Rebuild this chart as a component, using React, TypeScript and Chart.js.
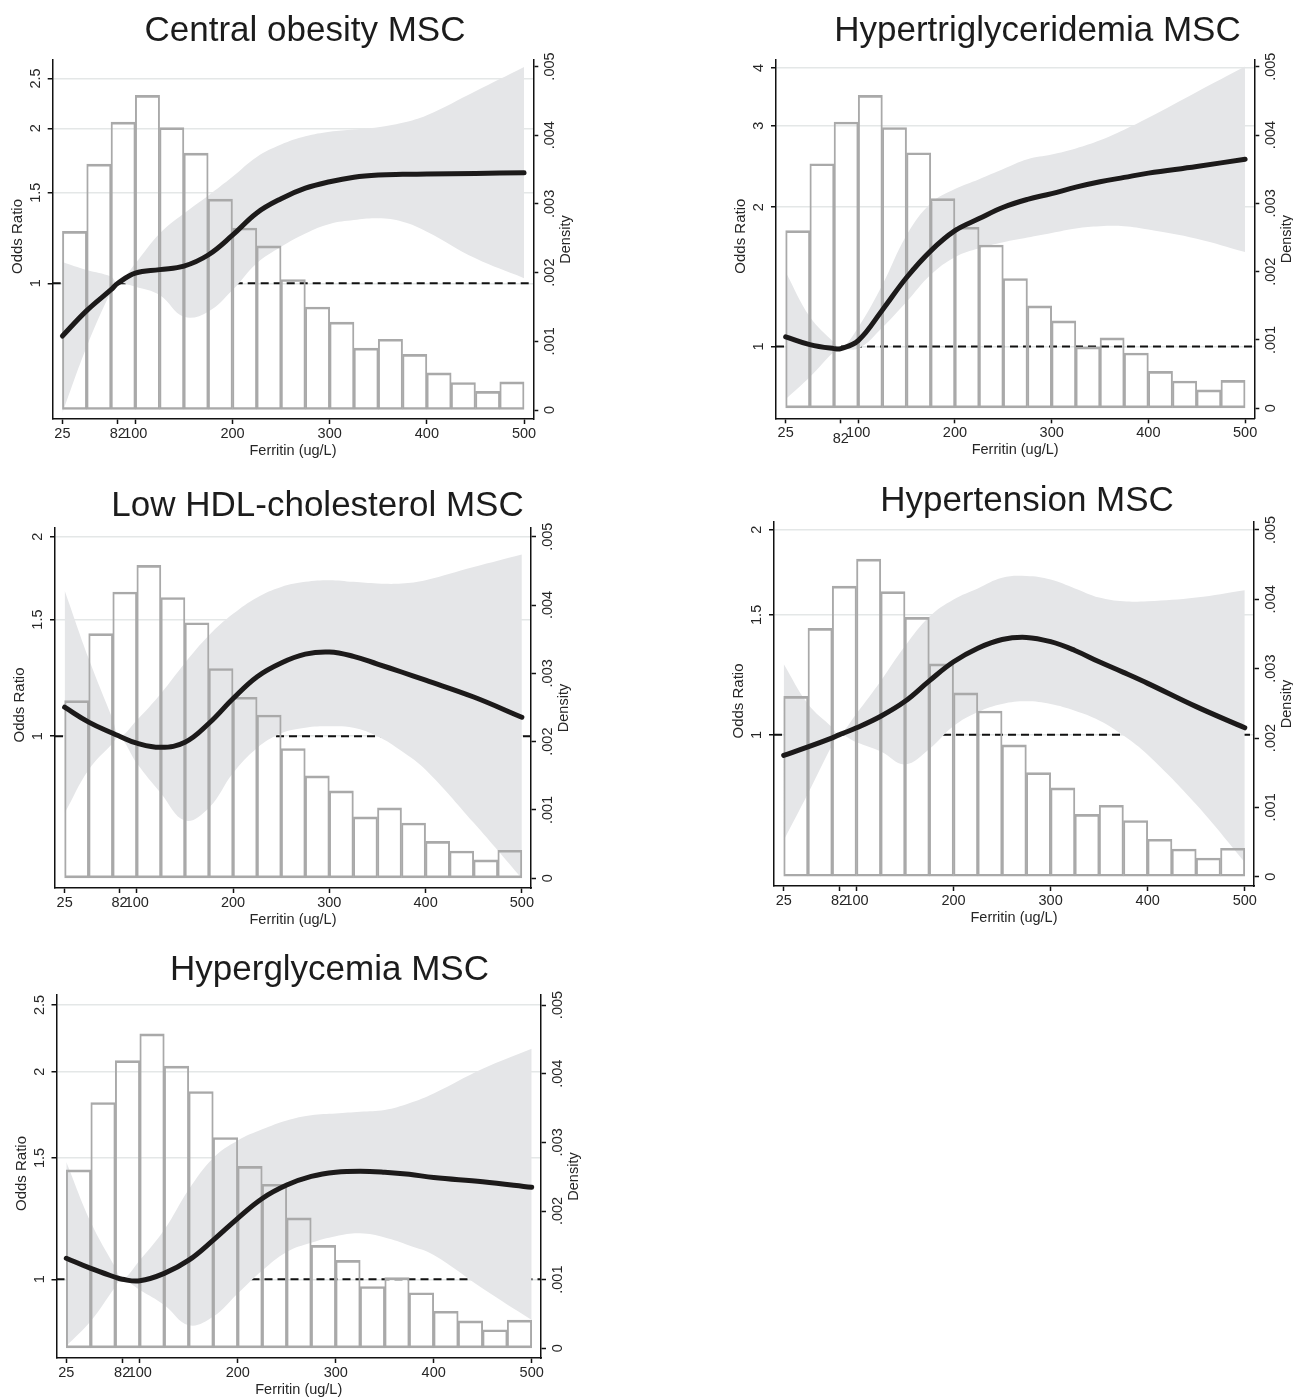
import React, { useEffect, useRef } from 'react';
import { Chart, registerables } from 'chart.js';

Chart.register(...registerables);

// ---------- shared data ----------
const ferritinGrid = [25, 50, 75, 82, 100, 125, 150, 175, 200, 225, 250, 275, 300, 325, 350, 375, 400, 450, 500];
const binCenters = [37.5, 62.5, 87.5, 112.5, 137.5, 162.5, 187.5, 212.5, 237.5, 262.5, 287.5, 312.5, 337.5, 362.5, 387.5, 412.5, 437.5, 462.5, 487.5];
const densityHist = [0.0026, 0.00358, 0.00419, 0.00458, 0.00411, 0.00374, 0.00307, 0.00265, 0.00239, 0.0019, 0.0015, 0.00128, 0.0009, 0.00103, 0.00081, 0.00054, 0.0004, 0.00027, 0.00041];
const xTickValues = [25, 82, 100, 200, 300, 400, 500];
const densityTicks = [0, 0.001, 0.002, 0.003, 0.004, 0.005];
const densityTickLabels = ['0', '.001', '.002', '.003', '.004', '.005'];

// ---------- Central obesity ----------
const obesityOR = [0.79, 0.885, 0.972, 1.0, 1.046, 1.063, 1.08, 1.135, 1.24, 1.37, 1.46, 1.53, 1.575, 1.607, 1.623, 1.628, 1.63, 1.635, 1.64];
const obesityUpper = [1.1, 1.061, 1.03, 1.0, 1.093, 1.25, 1.367, 1.48, 1.61, 1.76, 1.86, 1.93, 1.97, 1.99, 2.01, 2.05, 2.12, 2.36, 2.63];
const obesityLower = [0.56, 0.753, 0.963, 1.0, 0.985, 0.949, 0.861, 0.881, 0.97, 1.094, 1.178, 1.25, 1.304, 1.327, 1.337, 1.317, 1.26, 1.118, 1.023];
const obesityTicks = [1, 1.5, 2, 2.5];
const obesityTickLabels = ['1', '1.5', '2', '2.5'];

// ---------- Hypertriglyceridemia ----------
const trigOR = [1.05, 1.01, 0.99, 0.99, 1.03, 1.2, 1.41, 1.61, 1.78, 1.89, 2.0, 2.08, 2.14, 2.21, 2.27, 2.32, 2.37, 2.45, 2.54];
const trigUpper = [1.45, 1.16, 1.02, 0.99, 1.1, 1.36, 1.74, 2.04, 2.19, 2.3, 2.42, 2.54, 2.6, 2.68, 2.79, 2.94, 3.12, 3.55, 4.03];
const trigLower = [0.77, 0.86, 0.975, 0.99, 0.99, 1.1, 1.25, 1.43, 1.56, 1.63, 1.68, 1.72, 1.76, 1.8, 1.82, 1.82, 1.79, 1.71, 1.6];
const trigTicks = [1, 2, 3, 4];
const trigTickLabels = ['1', '2', '3', '4'];

// ---------- Low HDL-cholesterol ----------
const hdlOR = [1.106, 1.05, 1.01, 1.0, 0.976, 0.962, 0.979, 1.046, 1.14, 1.23, 1.29, 1.33, 1.34, 1.32, 1.285, 1.25, 1.215, 1.146, 1.068];
const hdlUpper = [1.66, 1.31, 1.06, 1.0, 1.057, 1.16, 1.29, 1.42, 1.53, 1.62, 1.68, 1.71, 1.72, 1.71, 1.7, 1.7, 1.72, 1.8, 1.88];
const hdlLower = [0.765, 0.89, 0.976, 1.0, 0.91, 0.82, 0.746, 0.78, 0.88, 0.96, 1.01, 1.03, 1.035, 1.03, 1.0, 0.95, 0.89, 0.74, 0.61];
const hdlTicks = [1, 1.5, 2];
const hdlTickLabels = ['1', '1.5', '2'];

// ---------- Hypertension ----------
const htnOR = [0.933, 0.96, 0.99, 1.0, 1.024, 1.065, 1.12, 1.2, 1.28, 1.34, 1.38, 1.39, 1.37, 1.33, 1.28, 1.235, 1.19, 1.1, 1.024];
const htnUpper = [1.27, 1.11, 1.025, 1.0, 1.075, 1.2, 1.35, 1.49, 1.58, 1.64, 1.7, 1.71, 1.69, 1.64, 1.59, 1.57, 1.57, 1.59, 1.63];
const htnLower = [0.7, 0.82, 0.966, 1.0, 0.975, 0.945, 0.905, 0.953, 1.03, 1.08, 1.11, 1.12, 1.11, 1.085, 1.05, 0.998, 0.935, 0.79, 0.65];
const htnTicks = [1, 1.5, 2];
const htnTickLabels = ['1', '1.5', '2'];

// ---------- Hyperglycemia ----------
const glyOR = [1.073, 1.037, 1.007, 1.0, 0.995, 1.02, 1.066, 1.14, 1.226, 1.31, 1.37, 1.41, 1.43, 1.435, 1.43, 1.42, 1.405, 1.385, 1.36];
const glyUpper = [1.48, 1.21, 1.04, 1.0, 1.066, 1.18, 1.35, 1.5, 1.59, 1.65, 1.7, 1.73, 1.74, 1.75, 1.76, 1.8, 1.86, 2.02, 2.16];
const glyLower = [0.8, 0.87, 0.975, 1.0, 0.965, 0.918, 0.858, 0.883, 0.954, 1.03, 1.096, 1.13, 1.155, 1.166, 1.15, 1.12, 1.085, 0.97, 0.873];
const glyTicks = [1, 1.5, 2, 2.5];
const glyTickLabels = ['1', '1.5', '2', '2.5'];

const X_MIN = 15;
const X_MAX = 509.5;
const FONT = '"Liberation Sans", Arial, Helvetica, sans-serif';

type Panel = {
  title: string;
  box: { l: number; t: number; w: number; h: number };
  area: { l: number; t: number; r: number; b: number };
  titleX: number;
  titleY: number;
  orMin: number;
  orMax: number;
  densMin: number;
  densMax: number;
  orTicks: number[];
  orLabels: string[];
  curve: number[];
  upper: number[];
  lower: number[];
  drop82: number;
};

const panels: Panel[] = [
  {
    title: 'Central obesity MSC',
    box: { l: 0, t: 0, w: 646, h: 470 },
    area: { l: 52.7, t: 60, r: 533.3, b: 419 },
    titleX: 305, titleY: 41,
    orMin: 0.545, orMax: 2.715, densMin: -0.000131, densMax: 0.005095,
    orTicks: obesityTicks, orLabels: obesityTickLabels,
    curve: obesityOR, upper: obesityUpper, lower: obesityLower, drop82: 0,
  },
  {
    title: 'Hypertriglyceridemia MSC',
    box: { l: 646, t: 0, w: 647, h: 470 },
    area: { l: 776, t: 60, r: 1254.3, b: 418.3 },
    titleX: 1037.5, titleY: 41,
    orMin: 0.729, orMax: 4.16, densMin: -0.000146, densMax: 0.005098,
    orTicks: trigTicks, orLabels: trigTickLabels,
    curve: trigOR, upper: trigUpper, lower: trigLower, drop82: 6,
  },
  {
    title: 'Low HDL-cholesterol MSC',
    box: { l: 0, t: 470, w: 646, h: 470 },
    area: { l: 55, t: 528, r: 531, b: 888 },
    titleX: 317.5, titleY: 516,
    orMin: 0.59, orMax: 2.062, densMin: -0.000142, densMax: 0.005127,
    orTicks: hdlTicks, orLabels: hdlTickLabels,
    curve: hdlOR, upper: hdlUpper, lower: hdlLower, drop82: 0,
  },
  {
    title: 'Hypertension MSC',
    box: { l: 646, t: 470, w: 647, h: 470 },
    area: { l: 774, t: 522, r: 1254, b: 886 },
    titleX: 1027, titleY: 511,
    orMin: 0.6255, orMax: 2.053, densMin: -0.000134, densMax: 0.005115,
    orTicks: htnTicks, orLabels: htnTickLabels,
    curve: htnOR, upper: htnUpper, lower: htnLower, drop82: 0,
  },
  {
    title: 'Hyperglycemia MSC',
    box: { l: 0, t: 940, w: 646, h: 458 },
    area: { l: 56.5, t: 995, r: 541, b: 1358 },
    titleX: 329.5, titleY: 980,
    orMin: 0.769, orMax: 2.584, densMin: -0.000141, densMax: 0.005146,
    orTicks: glyTicks, orLabels: glyTickLabels,
    curve: glyOR, upper: glyUpper, lower: glyLower, drop82: 0,
  },
];

function PanelChart({ p }: { p: Panel }) {
  const ref = useRef<HTMLCanvasElement>(null);

  useEffect(() => {
    const canvas = ref.current;
    if (!canvas) return;
    const { box, area } = p;
    const WL = 10, WR = 10, HB = 10;

    const textPlugin = {
      id: 'panelText',
      afterDraw(chart: any) {
        const ctx = chart.ctx as CanvasRenderingContext2D;
        const ca = chart.chartArea;
        const ys = chart.scales.y;
        const y2 = chart.scales.y2;
        const xs = chart.scales.xt;
        ctx.save();
        ctx.fillStyle = '#1c1c1c';
        ctx.font = `35px ${FONT}`;
        ctx.textAlign = 'center';
        ctx.textBaseline = 'alphabetic';
        ctx.fillText(p.title, p.titleX - box.l, p.titleY - box.t);

        ctx.fillStyle = '#262626';
        ctx.font = `14.5px ${FONT}`;
        ctx.textBaseline = 'middle';
        xTickValues.forEach((v) => {
          const px = xs.getPixelForValue(v);
          const dy = v === 82 ? p.drop82 : 0;
          ctx.fillText(String(v), px, ca.bottom + 15 + dy);
        });
        ctx.fillText('Ferritin (ug/L)', (ca.left + ca.right) / 2, ca.bottom + 32);

        const rot = (text: string, x: number, y: number) => {
          ctx.save();
          ctx.translate(x, y);
          ctx.rotate(-Math.PI / 2);
          ctx.fillText(text, 0, 0);
          ctx.restore();
        };
        p.orTicks.forEach((v, i) => rot(p.orLabels[i], ca.left - 17, ys.getPixelForValue(v)));
        densityTicks.forEach((v, i) => rot(densityTickLabels[i], ca.right + 17, y2.getPixelForValue(v)));
        const midY = (ca.top + ca.bottom) / 2;
        ctx.font = `15px ${FONT}`;
        rot('Odds Ratio', ca.left - 35, midY - 3);
        ctx.font = `14.5px ${FONT}`;
        rot('Density', ca.right + 33, midY);
        ctx.restore();
      },
    };

    const axisBorder = { display: true, color: '#111', width: 1.5, z: 1 };
    const TENSION = 0.4;

    const chart = new Chart(canvas, {
      type: 'line',
      data: {
        datasets: [
          {
            type: 'line',
            data: ferritinGrid.map((x, i) => ({ x, y: p.curve[i] })),
            borderColor: '#1c1a1a',
            borderWidth: 5,
            pointRadius: 0,
            tension: TENSION,
            fill: false,
            borderCapStyle: 'round',
            borderJoinStyle: 'round',
            xAxisID: 'x',
            yAxisID: 'y',
            order: 0,
          },
          {
            type: 'bar',
            data: binCenters.map((x, i) => ({ x, y: densityHist[i] })),
            backgroundColor: 'rgba(0,0,0,0)',
            borderColor: '#a9a9a9',
            borderWidth: { top: 2, bottom: 2, left: 1.3, right: 1.3 },
            borderSkipped: false,
            barPercentage: 1,
            categoryPercentage: 1,
            xAxisID: 'x',
            yAxisID: 'y2',
            order: 1,
          },
          {
            type: 'line',
            data: ferritinGrid.map((x, i) => ({ x, y: p.upper[i] })),
            borderColor: 'rgba(0,0,0,0)',
            borderWidth: 0,
            pointRadius: 0,
            tension: TENSION,
            fill: '+1',
            backgroundColor: '#e5e6e8',
            xAxisID: 'x',
            yAxisID: 'y',
            order: 2,
          },
          {
            type: 'line',
            data: ferritinGrid.map((x, i) => ({ x, y: p.lower[i] })),
            borderColor: 'rgba(0,0,0,0)',
            borderWidth: 0,
            pointRadius: 0,
            tension: TENSION,
            fill: false,
            xAxisID: 'x',
            yAxisID: 'y',
            order: 3,
          },
          {
            type: 'line',
            data: [{ x: X_MIN, y: 1 }, { x: X_MAX, y: 1 }],
            borderColor: '#111',
            borderWidth: 2,
            borderDash: [8, 5],
            pointRadius: 0,
            fill: false,
            xAxisID: 'x',
            yAxisID: 'y',
            order: 4,
          },
        ],
      } as any,
      options: {
        responsive: false,
        maintainAspectRatio: false,
        animation: false,
        devicePixelRatio: 1,
        events: [],
        layout: {
          autoPadding: false,
          padding: {
            left: area.l - box.l - WL,
            right: box.l + box.w - area.r - WR,
            top: area.t - box.t,
            bottom: box.t + box.h - area.b - HB,
          },
        },
        plugins: {
          legend: { display: false },
          tooltip: { enabled: false },
          title: { display: false },
        },
        scales: {
          x: {
            type: 'linear',
            display: false,
            offset: false,
            grid: { offset: false },
            min: X_MIN,
            max: X_MAX,
            afterBuildTicks: (s: any) => {
              s.ticks = binCenters.map((v) => ({ value: v }));
            },
          },
          xt: {
            type: 'linear',
            position: 'bottom',
            offset: false,
            min: X_MIN,
            max: X_MAX,
            afterBuildTicks: (s: any) => {
              s.ticks = xTickValues.map((v) => ({ value: v }));
            },
            afterFit: (s: any) => {
              s.height = HB;
            },
            ticks: { display: false },
            grid: { offset: false, drawOnChartArea: false, drawTicks: true, tickLength: 5, tickColor: '#111', tickWidth: 1.5 },
            border: axisBorder,
          },
          y: {
            type: 'logarithmic',
            position: 'left',
            min: p.orMin,
            max: p.orMax,
            afterBuildTicks: (s: any) => {
              s.ticks = p.orTicks.map((v) => ({ value: v }));
            },
            afterFit: (s: any) => {
              s.width = WL;
            },
            ticks: { display: false },
            grid: { color: '#e4e7e7', lineWidth: 1.5, drawTicks: true, tickLength: 5, tickColor: '#111', tickWidth: 1.5 },
            border: axisBorder,
          },
          y2: {
            type: 'linear',
            position: 'right',
            min: p.densMin,
            max: p.densMax,
            afterBuildTicks: (s: any) => {
              s.ticks = densityTicks.map((v) => ({ value: v }));
            },
            afterFit: (s: any) => {
              s.width = WR;
            },
            ticks: { display: false },
            grid: { drawOnChartArea: false, drawTicks: true, tickLength: 5, tickColor: '#111', tickWidth: 1.5 },
            border: axisBorder,
          },
        },
      } as any,
      plugins: [textPlugin],
    });

    return () => {
      chart.destroy();
    };
  }, [p]);

  return (
    <canvas
      ref={ref}
      width={p.box.w}
      height={p.box.h}
      style={{ position: 'absolute', left: p.box.l, top: p.box.t, width: p.box.w, height: p.box.h }}
    />
  );
}

export default function App() {
  return (
    <div
      style={{
        position: 'absolute',
        left: 0,
        top: 0,
        width: 1293,
        height: 1398,
        background: '#ffffff',
        overflow: 'hidden',
      }}
    >
      {panels.map((p) => (
        <PanelChart key={p.title} p={p} />
      ))}
    </div>
  );
}
